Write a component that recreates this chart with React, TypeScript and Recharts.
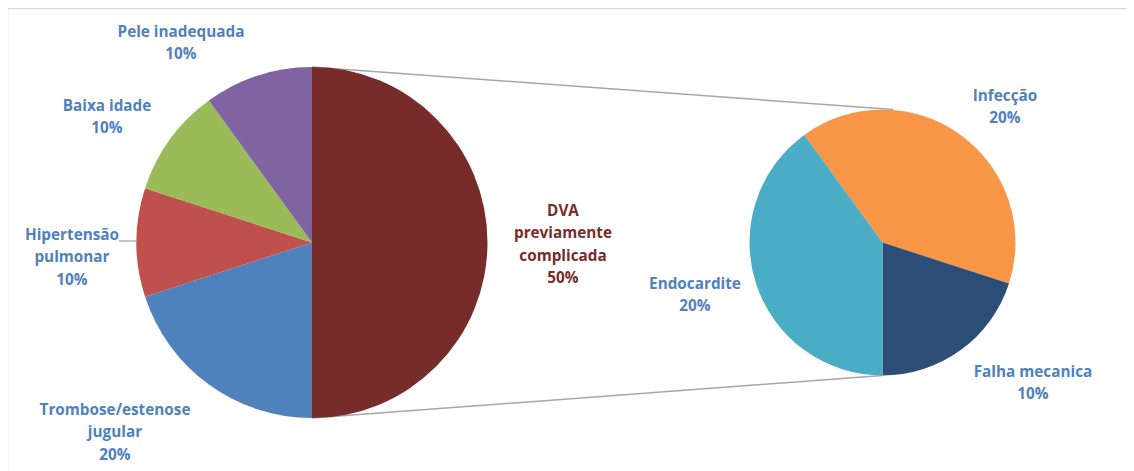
import React from "react";
import { PieChart, Pie, Cell } from "recharts";

// ---- data ----
const mainCategories = [
  "DVA previamente complicada",
  "Trombose/estenose jugular",
  "Hipertensão pulmonar",
  "Baixa idade",
  "Pele inadequada",
];
const mainValues = [50, 20, 10, 10, 10];

const subCategories = ["Infecção", "Falha mecanica", "Endocardite"];
const subValues = [20, 10, 20];

// ---- styling / layout (not data) ----
const mainColors = ["#772C2A", "#4F81BD", "#C0504D", "#9BBB59", "#8064A2"];
const subColors = ["#F79646", "#2C4D75", "#4BACC6"];
const labelBlue = "#4F81BD";
const labelRed = "#772C2A";

const lineBreaks: Record<string, string[]> = {
  "DVA previamente complicada": ["DVA", "previamente", "complicada"],
  "Trombose/estenose jugular": ["Trombose/estenose", "jugular"],
  "Hipertensão pulmonar": ["Hipertensão", "pulmonar"],
};

// label offsets (first line centre) relative to pie centre
const labelOffsets: Record<string, [number, number]> = {
  "DVA previamente complicada": [251, -32.5],
  "Trombose/estenose jugular": [-197, 166.5],
  "Hipertensão pulmonar": [-240, -8.5],
  "Baixa idade": [-205, -137.5],
  "Pele inadequada": [-131, -211.5],
  "Infecção": [122.5, -147.5],
  "Falha mecanica": [150.5, 128.5],
  "Endocardite": [-187.5, 40.5],
};

const W = 1126;
const H = 463;
const LEFT_CX = 304;
const RIGHT_CX = 874.5;
const CY = 234.5;
const LEFT_R = 175.5;
const RIGHT_R = 133;

const mainData = mainCategories.map((name, i) => ({ name, value: mainValues[i] }));
const subData = subCategories.map((name, i) => ({ name, value: subValues[i] }));

const FONT = "'Open Sans', Lato, sans-serif";
const LINE_H = 22.5;

function renderLabel(props: any) {
  const { cx, cy, name, value, outerRadius } = props;
  const off = labelOffsets[name] || [0, 0];
  const lines = [...(lineBreaks[name] || [name]), `${value}%`];
  const x = cx + off[0];
  const y = cy + off[1] + 5.5;
  const color = name === mainCategories[0] ? labelRed : labelBlue;
  return (
    <g key={name}>
      {name === "Hipertensão pulmonar" && (
        <line
          x1={cx - 193}
          y1={cy - 1.5}
          x2={cx - outerRadius}
          y2={cy - 1.5}
          stroke="#A6A6A6"
          strokeWidth={1.3}
        />
      )}
      <text
        x={x}
        y={y}
        fill={color}
        textAnchor="middle"
        fontFamily={FONT}
        fontWeight={700}
        fontSize={15.3}
      >
        {lines.map((ln, i) => (
          <tspan key={i} x={x} dy={i === 0 ? 0 : LINE_H}>
            {ln}
          </tspan>
        ))}
      </text>
    </g>
  );
}

export default function App() {
  return (
    <div style={{ width: W, height: H, position: "relative" }}>
      <style>{`.recharts-pie-sectors{filter:drop-shadow(0 1px 3px rgba(0,0,0,0.28));}`}</style>
      <PieChart width={W} height={H} margin={{ top: 0, right: 0, bottom: 0, left: 0 }}>
        <line x1={-1} y1={0.5} x2={W} y2={0.5} stroke="#D9D9D9" strokeWidth={1.5} />
        <line x1={-0.5} y1={0} x2={-0.5} y2={H} stroke="#D9D9D9" strokeWidth={1.5} />
        <line
          x1={LEFT_CX}
          y1={CY - LEFT_R}
          x2={RIGHT_CX + 11}
          y2={CY - RIGHT_R}
          stroke="#A6A6A6"
          strokeWidth={1.5}
        />
        <line
          x1={LEFT_CX}
          y1={CY + LEFT_R}
          x2={RIGHT_CX}
          y2={CY + RIGHT_R}
          stroke="#A6A6A6"
          strokeWidth={1.5}
        />
        <Pie
          data={mainData}
          dataKey="value"
          nameKey="name"
          cx={LEFT_CX}
          cy={CY}
          outerRadius={LEFT_R}
          startAngle={90}
          endAngle={-270}
          stroke="none"
          label={renderLabel}
          labelLine={false}
          isAnimationActive={false}
        >
          {mainData.map((d, i) => (
            <Cell key={d.name} fill={mainColors[i]} />
          ))}
        </Pie>
        <Pie
          data={subData}
          dataKey="value"
          nameKey="name"
          cx={RIGHT_CX}
          cy={CY}
          outerRadius={RIGHT_R}
          startAngle={126}
          endAngle={-234}
          stroke="none"
          label={renderLabel}
          labelLine={false}
          isAnimationActive={false}
        >
          {subData.map((d, i) => (
            <Cell key={d.name} fill={subColors[i]} />
          ))}
        </Pie>
      </PieChart>
    </div>
  );
}
